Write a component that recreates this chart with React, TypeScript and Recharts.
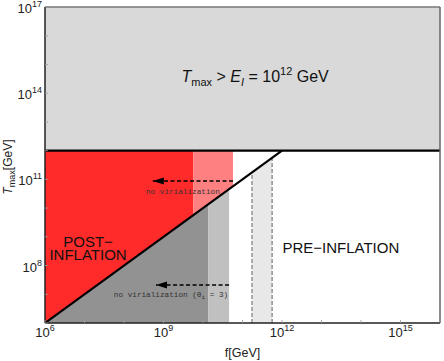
import React from "react";
import {
  ComposedChart,
  Area,
  Line,
  XAxis,
  YAxis,
  ReferenceArea,
  ReferenceLine,
  ReferenceDot,
} from "recharts";

// everything is in log10 units
const F_MIN = 6;
const F_MAX = 16;
const T_MIN = 6;
const T_MAX = 17;
const E_I = 12;

const xTickAll = [6, 7, 8, 9, 10, 11, 12, 13, 14, 15, 16];
const xTickLabels = [6, 9, 12, 15];
const yTickAll = [6, 7, 8, 9, 10, 11, 12, 13, 14, 15, 16, 17];
const yTickLabels = [8, 11, 14, 17];

// region edges in f
const redEnd = 9.75;
const salmonEnd = 10.76;
const darkGrayEnd = 10.13;
const lightGrayEnd = 10.66;
const bandStart = 11.24;
const bandEnd = 11.75;

// arrows: start f, tip f, T level
const arrowVirial = [salmonEnd, 8.73, 10.94];
const arrowTheta = [lightGrayEnd, 8.81, 7.32];

const SANS = "'Liberation Sans', Arial, sans-serif";
const MONO = "'Liberation Mono', monospace";

// above diagonal up to E_I
const above = (a: number, b: number) => [
  { f: a, r: [a, E_I] },
  { f: b, r: [b, E_I] },
];
// below diagonal down to the floor
const below = (a: number, b: number) => [
  { f: a, r: [T_MIN, a] },
  { f: b, r: [T_MIN, b] },
];

const diagonal = [
  { f: F_MIN, T: F_MIN },
  { f: E_I, T: E_I },
];
const vline = (f: number) => [
  { f, T: T_MIN },
  { f, T: f },
];
const arrowData = (a: number[]) => [
  { f: a[0], T: a[2] },
  { f: a[1], T: a[2] },
];

const ArrowDot = (props: any) => {
  const { cx, cy, index } = props;
  if (index !== 1) return <g key={`a-${index}`} />;
  return (
    <path
      key={`a-${index}`}
      d={`M${cx},${cy} L${cx + 11},${cy - 3.5} L${cx + 11},${cy + 3.5} Z`}
      fill="#000"
    />
  );
};

const XTick = (props: any) => {
  const { x, y, payload } = props;
  const v = payload.value;
  return (
    <g>
      <line x1={x} x2={x} y1={y} y2={y - 3} stroke="#999" strokeWidth={0.8} />
      {xTickLabels.includes(v) && (
        <text x={x} y={y + 14} textAnchor="middle" fontFamily={SANS} fill="#222">
          <tspan fontSize={13}>10</tspan>
          <tspan fontSize={9} dy={-6}>
            {v}
          </tspan>
        </text>
      )}
    </g>
  );
};

const YTick = (props: any) => {
  const { x, y, payload } = props;
  const v = payload.value;
  return (
    <g>
      <line x1={x} x2={x + 3} y1={y} y2={y} stroke="#999" strokeWidth={0.8} />
      {yTickLabels.includes(v) && (
        <text x={x - 3} y={y + 6} textAnchor="end" fontFamily={SANS} fill="#222">
          <tspan fontSize={13}>10</tspan>
          <tspan fontSize={9} dy={-6}>
            {v}
          </tspan>
        </text>
      )}
    </g>
  );
};

const titleLabel = (props: any) => {
  const { x, y } = props.viewBox;
  return (
    <text x={x} y={y} textAnchor="middle" fontFamily={SANS} fontSize={16} fill="#111" style={{ whiteSpace: "pre" }}>
      <tspan fontStyle="italic">T</tspan>
      <tspan fontSize={11} dy={4}>max</tspan>
      <tspan dy={-4}>{" > "}</tspan>
      <tspan fontStyle="italic">E</tspan>
      <tspan fontSize={11} dy={4} fontStyle="italic">I</tspan>
      <tspan dy={-4}>{" = 10"}</tspan>
      <tspan fontSize={11} dy={-7}>12</tspan>
      <tspan dy={7}>{" GeV"}</tspan>
    </text>
  );
};

const postLabel = (props: any) => {
  const { x, y } = props.viewBox;
  return (
    <text textAnchor="middle" fontFamily={SANS} fontSize={15} fill="#111">
      <tspan x={x} y={y}>POST−</tspan>
      <tspan x={x} y={y + 13}>INFLATION</tspan>
    </text>
  );
};

const preLabel = (props: any) => {
  const { x, y } = props.viewBox;
  return (
    <text x={x} y={y} textAnchor="middle" fontFamily={SANS} fontSize={15} fill="#111">
      PRE−INFLATION
    </text>
  );
};

const virialLabel = (props: any) => {
  const { x, y } = props.viewBox;
  return (
    <text x={x} y={y} textAnchor="middle" fontFamily={MONO} fontSize={7.7} fill="#333">
      no virialization
    </text>
  );
};

const thetaLabel = (props: any) => {
  const { x, y } = props.viewBox;
  return (
    <text x={x} y={y} textAnchor="middle" fontFamily={MONO} fontSize={7.7} fill="#333" style={{ whiteSpace: "pre" }}>
      <tspan>{"no virialization (θ"}</tspan>
      <tspan fontSize={6} dy={2}>i</tspan>
      <tspan dy={-2}>{" = 3)"}</tspan>
    </text>
  );
};

const yAxisLabel = (props: any) => {
  const { x, y, height } = props.viewBox;
  const cx = x + 12;
  const cy = y + height / 2 + 2;
  return (
    <text x={cx} y={cy} textAnchor="middle" fontFamily={SANS} fontSize={12} fill="#222" transform={`rotate(-90 ${cx} ${cy})`}>
      <tspan fontStyle="italic">T</tspan>
      <tspan fontSize={9} dy={3}>max</tspan>
      <tspan dy={-3}>[GeV]</tspan>
    </text>
  );
};

const xAxisLabel = (props: any) => {
  const { x, y, width } = props.viewBox;
  return (
    <text x={x + width / 2} y={y + 34} textAnchor="middle" fontFamily={SANS} fontSize={12.5} fill="#222">
      f[GeV]
    </text>
  );
};

export default function App() {
  return (
    <div style={{ position: "absolute", left: 0, top: 0 }}>
      <ComposedChart width={444} height={361} margin={{ top: 7, right: 4, left: 0, bottom: 0 }}>
        <XAxis
          type="number"
          dataKey="f"
          domain={[F_MIN, F_MAX]}
          ticks={xTickAll}
          interval={0}
          allowDataOverflow
          tick={<XTick />}
          tickSize={0}
          tickMargin={0}
          tickLine={false}
          axisLine={{ stroke: "#222", strokeWidth: 1.5 }}
          height={38}
          label={{ content: xAxisLabel }}
        />
        <YAxis
          type="number"
          domain={[T_MIN, T_MAX]}
          ticks={yTickAll}
          interval={0}
          allowDataOverflow
          tick={<YTick />}
          tickSize={0}
          tickMargin={0}
          tickLine={false}
          axisLine={{ stroke: "#222", strokeWidth: 1.5 }}
          width={45}
          label={{ content: yAxisLabel }}
        />

        <ReferenceArea x1={F_MIN} x2={F_MAX} y1={E_I} y2={T_MAX} fill="#d9d9d9" fillOpacity={1} stroke="none" />

        <Area data={above(F_MIN, redEnd)} dataKey="r" type="linear" fill="#ff2a2a" fillOpacity={1} stroke="none" isAnimationActive={false} />
        <Area data={above(redEnd, salmonEnd)} dataKey="r" type="linear" fill="#ff8080" fillOpacity={1} stroke="none" isAnimationActive={false} />
        <Area data={below(F_MIN, darkGrayEnd)} dataKey="r" type="linear" fill="#929292" fillOpacity={1} stroke="none" isAnimationActive={false} />
        <Area data={below(darkGrayEnd, lightGrayEnd)} dataKey="r" type="linear" fill="#c0c0c0" fillOpacity={1} stroke="none" isAnimationActive={false} />
        <Area data={below(bandStart, bandEnd)} dataKey="r" type="linear" fill="#e8e8e8" fillOpacity={1} stroke="none" isAnimationActive={false} />

        <Line data={vline(bandStart)} dataKey="T" type="linear" stroke="#999" strokeWidth={1.6} strokeDasharray="4 2" dot={false} isAnimationActive={false} />
        <Line data={vline(bandEnd)} dataKey="T" type="linear" stroke="#999" strokeWidth={1.6} strokeDasharray="4 2" dot={false} isAnimationActive={false} />

        <Line data={arrowData(arrowVirial)} dataKey="T" type="linear" stroke="#000" strokeWidth={1.5} strokeDasharray="4 2.5" dot={<ArrowDot />} isAnimationActive={false} />
        <Line data={arrowData(arrowTheta)} dataKey="T" type="linear" stroke="#000" strokeWidth={1.5} strokeDasharray="4 2.5" dot={<ArrowDot />} isAnimationActive={false} />

        <Line data={diagonal} dataKey="T" type="linear" stroke="#000" strokeWidth={2.2} dot={false} isAnimationActive={false} />
        <ReferenceLine y={E_I} stroke="#000" strokeWidth={2.2} />
        <ReferenceLine y={T_MAX} stroke="#777" strokeWidth={1.5} />
        <ReferenceLine x={F_MAX} stroke="#666" strokeWidth={1.5} />

        <ReferenceDot x={11.32} y={14.39} r={0} ifOverflow="visible" label={titleLabel} />
        <ReferenceDot x={7.09} y={8.65} r={0} ifOverflow="visible" label={postLabel} />
        <ReferenceDot x={13.49} y={8.44} r={0} ifOverflow="visible" label={preLabel} />
        <ReferenceDot x={9.49} y={10.49} r={0} ifOverflow="visible" label={virialLabel} />
        <ReferenceDot x={9.19} y={6.9} r={0} ifOverflow="visible" label={thetaLabel} />
      </ComposedChart>
    </div>
  );
}
